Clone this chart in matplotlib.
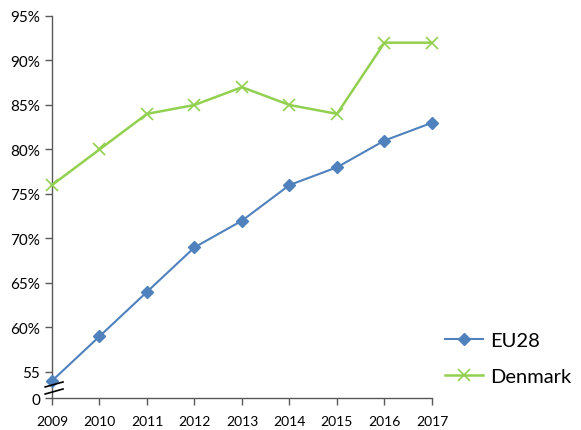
import matplotlib.pyplot as plt
import numpy as np

years = [2009, 2010, 2011, 2012, 2013, 2014, 2015, 2016, 2017]
eu28 = [54, 59, 64, 69, 72, 76, 78, 81, 83]
denmark = [76, 80, 84, 85, 87, 85, 84, 92, 92]

# axis is broken: bottom tick stands for 0
y_floor = 52.07
y_ticks = [y_floor, 55, 60, 65, 70, 75, 80, 85, 90, 95]
y_labels = ['0', '55', '60%', '65%', '70%', '75%', '80%', '85%', '90%', '95%']

plt.rcParams['font.family'] = ['Lato', 'DejaVu Sans']

fig = plt.figure(figsize=(5.81, 4.31), dpi=100)
ax = fig.add_axes([0.0895, 0.0742, 0.654, 0.8864])

ax.plot(years, eu28, color='#4F81BD', marker='D', markersize=6, linewidth=1.5,
        label='EU28', clip_on=False, zorder=3)
ax.plot(years, denmark, color='#92D050', marker='x', markersize=9, markeredgewidth=1.2,
        linewidth=1.8, label='Denmark', clip_on=False, zorder=3)

ax.set_xlim(2009, 2017)
ax.set_ylim(y_floor, 95)
ax.set_xticks(years)
ax.set_xticklabels([str(y) for y in years], fontsize=10)
ax.set_yticks(y_ticks)
ax.set_yticklabels(y_labels, fontsize=11)

for s in ['top', 'right']:
    ax.spines[s].set_visible(False)
for s in ['left', 'bottom']:
    ax.spines[s].set_color('#595959')
    ax.spines[s].set_linewidth(1.0)
ax.tick_params(axis='both', colors='#595959', length=5, width=1.0, labelcolor='black')
ax.tick_params(axis='x', pad=7)

# break marks on the y axis
trans = ax.transAxes
for y0, y1 in ((0.029, 0.042), (0.0105, 0.0236)):
    ax.plot([-0.018, 0.029], [y0, y1], color='black', linewidth=1.2,
            transform=trans, clip_on=False, zorder=4)

ax.legend(loc='upper left', bbox_to_anchor=(1.013, 0.195), frameon=False, fontsize=14.5,
          handlelength=1.9, handletextpad=0.35, labelspacing=0.95, borderaxespad=0)

fig.savefig('out.png', dpi=100)
